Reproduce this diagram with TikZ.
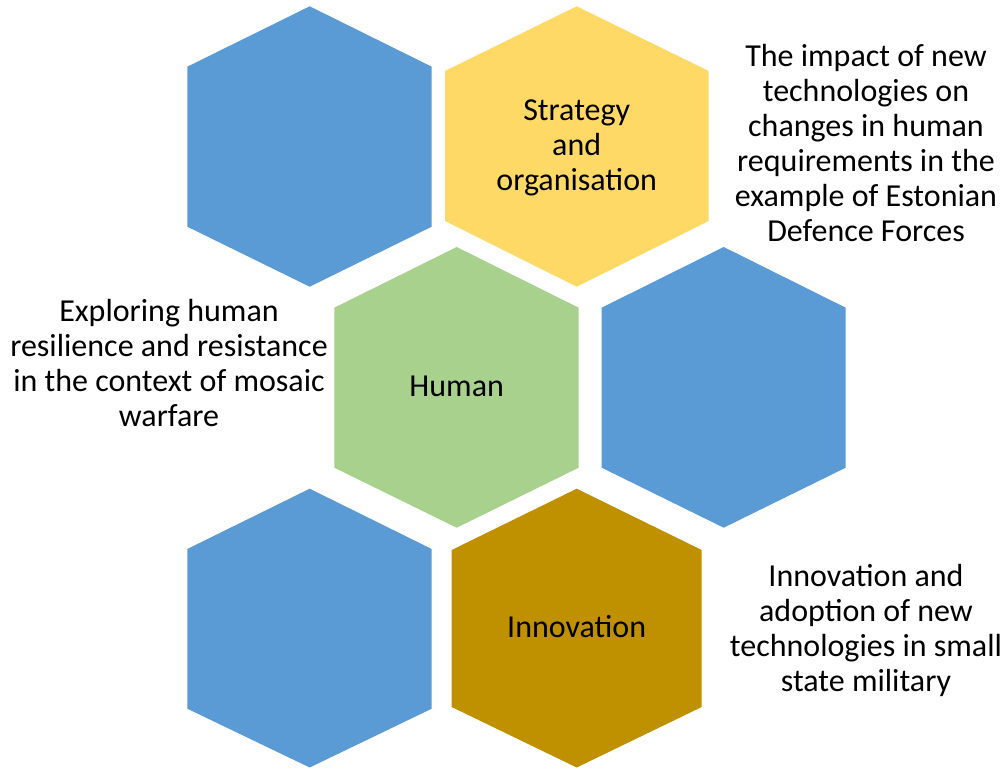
\documentclass[tikz,border=0pt]{standalone}
\usepackage{fontspec}
\setmainfont{Carlito}
\definecolor{hexblue}{HTML}{5B9BD5}
\definecolor{hexyellow}{HTML}{FFD966}
\definecolor{hexgreen}{HTML}{A9D18E}
\definecolor{hexgold}{HTML}{BF9000}
\tikzset{
  hexfill/.style={fill=#1, draw=none},
  lbl/.style={align=center, inner sep=0pt, anchor=base, text=black, font=\fontsize{32}{35}\selectfont},
}
\begin{document}
\begin{tikzpicture}[x=1pt, y=-1pt]
\useasboundingbox (0,0) rectangle (1006,768);
% hexagons
\path[hexfill=hexblue] (309.7,6.3) -- (431.7,66.7) -- (431.7,226.7) -- (309.7,286.7) -- (187.3,226.7) -- (187.3,66.7) -- cycle;
\path[hexfill=hexyellow] (576.7,6.3) -- (708.7,71) -- (708.7,221) -- (576.7,286.7) -- (445,221) -- (445,71) -- cycle;
\path[hexfill=hexgreen] (456.7,247) -- (578.7,307.7) -- (578.7,467.7) -- (456.7,527.7) -- (334.3,467.7) -- (334.3,307.7) -- cycle;
\path[hexfill=hexblue] (723.7,247) -- (845.7,307.7) -- (845.7,467.7) -- (723.7,527.7) -- (601.7,467.7) -- (601.7,307.7) -- cycle;
\path[hexfill=hexblue] (309.7,488.7) -- (431.7,549) -- (431.7,708.7) -- (309.7,767.5) -- (187.3,708.7) -- (187.3,549) -- cycle;
\path[hexfill=hexgold] (576.7,488.7) -- (701.7,550) -- (701.7,707) -- (576.7,767.5) -- (451.7,707) -- (451.7,550) -- cycle;
% labels in hexagons (anchor = baseline of last line)
\node[lbl] (strategy) at (576.7,190.7) {Strategy\\and\\organisation};
\node[lbl] (human) at (456.7,396.7) {Human};
\node[lbl] (innovation) at (576.7,637.7) {Innovation};
% side texts
\node[lbl] (impact) at (866,241.7) {The impact of new\\technologies on\\changes in human\\requirements in the\\example of Estonian\\Defence Forces};
\node[lbl] (exploring) at (169,426.7) {Exploring human\\resilience and resistance\\in the context of mosaic\\warfare};
\node[lbl] (adoption) at (866,691) {Innovation and\\adoption of new\\technologies in small\\state military};
\end{tikzpicture}
\end{document}
